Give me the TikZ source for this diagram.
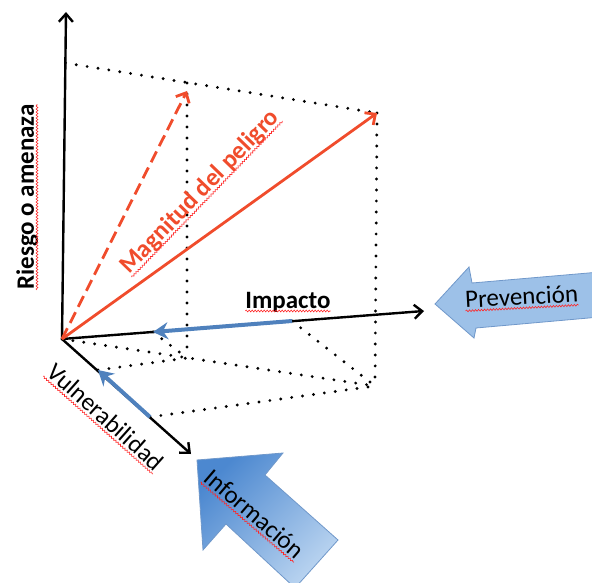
\documentclass[tikz,border=0pt]{standalone}
\usepackage{fontspec}
\setmainfont{Carlito}
\usetikzlibrary{arrows.meta,calc,decorations.pathmorphing}

\definecolor{riskred}{RGB}{240,76,44}
\definecolor{cutblue}{RGB}{79,129,189}
\definecolor{prevfill}{RGB}{157,193,232}
\definecolor{prevedge}{RGB}{112,152,202}
\definecolor{infodark}{RGB}{76,136,208}
\definecolor{infolight}{RGB}{186,212,240}

\tikzset{
  axisline/.style={line width=2.4pt, -{Straight Barb[length=8pt,width=14pt]}},
  guideline/.style={line width=3.2pt, line cap=round, dash pattern=on 0pt off 11pt},
  riskvec/.style={riskred, line width=2.8pt, -{Straight Barb[length=8pt,width=15pt]}},
  cutarrow/.style={cutblue, line width=4pt, -{Stealth[length=15pt,width=17pt,inset=5pt]}},
  lbl/.style={font=\fontsize{25}{25}\selectfont, inner sep=0pt, anchor=base},
  spell/.style={red!85!white, line width=0.6pt, decorate, decoration={snake, amplitude=0.9pt, segment length=3pt}},
}
\newcommand{\spellmark}[1]{%
  \draw[spell] ($(#1.base west)!3pt!-90:(#1.base east)$) -- ($(#1.base east)!3pt!90:(#1.base west)$);}

\begin{document}
\begin{tikzpicture}[x=1pt,y=-1pt]
  \useasboundingbox (0,0) rectangle (592,583);
  \clip (0,0) rectangle (592,583);

  % points of the box
  \coordinate (O) at (62,339);
  \coordinate (riskend) at (66,12);
  \coordinate (impend) at (424,311);
  \coordinate (vulend) at (191,454);
  \coordinate (R0) at (65.4,63);
  \coordinate (P1) at (187,83);
  \coordinate (P1tip) at (187,91);
  \coordinate (P2) at (377,113);
  \coordinate (Q1) at (187,358);
  \coordinate (Q2) at (375,386);
  \coordinate (I1) at (153,332);
  \coordinate (I2) at (292,321);
  \coordinate (V1) at (98,370);
  \coordinate (V2) at (150,417);

  % dotted box
  \draw[guideline] (R0) -- (P2);
  \draw[guideline] (P1) -- (Q1);
  \draw[guideline] (P2) -- (Q2);
  \draw[guideline] (O) -- (Q2);
  \draw[guideline] (V1) -- (Q1) (I1) -- (Q1);
  \draw[guideline] (V2) -- (Q2) (I2) -- (Q2);

  % axes
  \draw[axisline] (O) -- (riskend);
  \draw[axisline] (O) -- (impend);
  \draw[axisline] (O) -- (vulend);

  % hazard vectors
  \draw[riskvec] (O) -- (P2);
  \draw[riskvec, dash pattern=on 12pt off 6pt] (O) -- (P1tip);

  % reductions
  \draw[cutarrow] (I2) -- (I1);
  \draw[cutarrow] (V2) -- (V1);

  % block arrows
  \filldraw[fill=prevfill, draw=prevedge, line width=0.8pt]
    (435,304) -- (469,267) -- (472,283) -- (600,272) -- (600,317) -- (476,328) -- (474,338) -- cycle;
  \path[draw=prevedge, line width=0.8pt, left color=infodark, right color=infolight, shading angle=45]
    (197,460) -- (283,453) -- (265,475) -- (338,540) -- (295,588) -- (226,524) -- (203,550) -- cycle;

  % labels
  \node[lbl, rotate=90] (riesgo) at (34,197) {\bfseries Riesgo o amenaza};
  \node[lbl] (impacto) at (288,308) {\bfseries Impacto};
  \node[lbl, rotate=-41.7] (vulner) at (100,423) {Vulnerabilidad};
  \node[lbl, rotate=46, text=riskred] (magnitud) at (205,197) {\bfseries Magnitud del peligro};
  \node[lbl, rotate=3] (prevencion) at (522,305) {Prevención};
  \node[lbl, rotate=-40.6] (informacion) at (249,520) {Información};

  \spellmark{riesgo}
  \spellmark{impacto}
  \spellmark{vulner}
  \spellmark{magnitud}
  \spellmark{prevencion}
  \spellmark{informacion}
\end{tikzpicture}
\end{document}
